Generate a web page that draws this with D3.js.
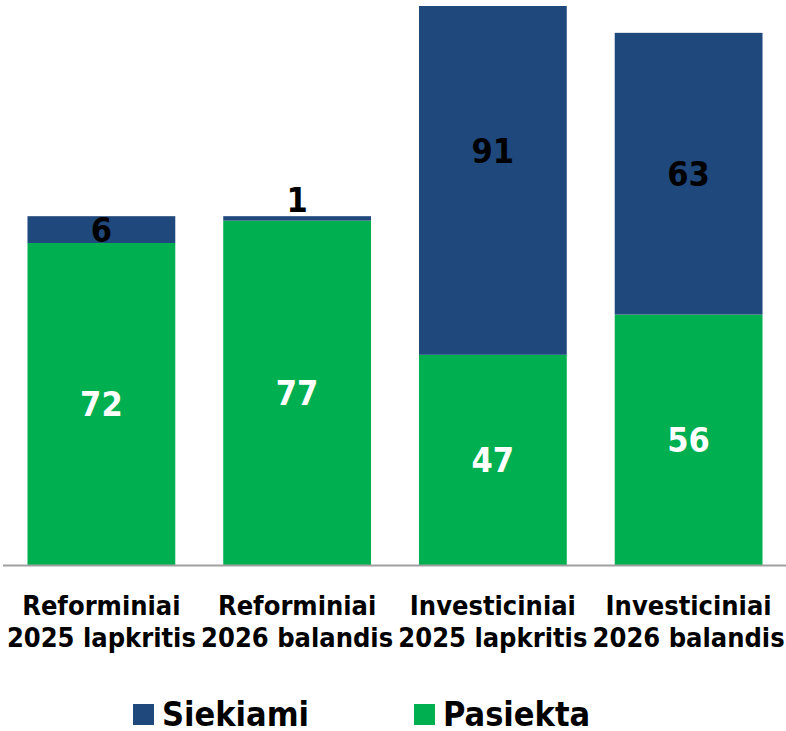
<!DOCTYPE html>
<html>
<head>
<meta charset="utf-8">
<script src="https://cdn.jsdelivr.net/npm/d3@7"></script>
<style>
  body { margin: 0; background: #fff; }
  text { font-family: "DejaVu Sans Condensed", "DejaVu Sans", sans-serif; font-weight: bold; }
</style>
</head>
<body>
<script>
var w = 786;
var h = 731;

var categories = [
  ["Reforminiai", "2025 lapkritis"],
  ["Reforminiai", "2026 balandis"],
  ["Investiciniai", "2025 lapkritis"],
  ["Investiciniai", "2026 balandis"]
];
var pasiekta = [72, 77, 47, 56];
var siekiami = [6, 1, 91, 63];
var seriesNames = ["Siekiami", "Pasiekta"];
var colors = {Siekiami: "#1f497d", Pasiekta: "#00b050"};

var rows = categories.map(function(c, i){
  return {key: i, Pasiekta: pasiekta[i], Siekiami: siekiami[i]};
});
var stack = d3.stack().keys(["Pasiekta", "Siekiami"])(rows);

var svg = d3.select("body").append("svg").attr("width", w).attr("height", h);

var x = d3.scaleBand().domain(d3.range(categories.length)).range([4, 786]).paddingInner(0.245).paddingOuter(0.12);
var y = d3.scaleLinear().domain([0, 125]).range([565, 6]);

svg.append("clipPath").attr("id", "plot")
  .append("rect").attr("x", 0).attr("y", y(125)).attr("width", w).attr("height", y(0) - y(125));

var g = svg.append("g").attr("clip-path", "url(#plot)");

stack.forEach(function(layer){
  g.selectAll(null)
    .data(layer)
    .enter()
    .append("rect")
    .attr("x", function(d, i){ return x(i); })
    .attr("width", x.bandwidth())
    .attr("y", function(d){ return y(d[1]); })
    .attr("height", function(d){ return y(d[0]) - y(d[1]); })
    .attr("fill", colors[layer.key]);
});

// value labels
stack.forEach(function(layer){
  svg.selectAll(null)
    .data(layer)
    .enter()
    .append("text")
    .attr("x", function(d, i){ return x(i) + x.bandwidth() / 2; })
    .attr("y", function(d){
      if (y(d[0]) - y(d[1]) < 20) return y(d[1]) - 4;
      return (y(d[0]) + y(d[1])) / 2 + 12;
    })
    .attr("text-anchor", "middle")
    .attr("font-size", 34)
    .attr("fill", layer.key == "Pasiekta" ? "#fff" : "#000")
    .text(function(d){ return d[1] - d[0]; });
});

// axis line
svg.append("line")
  .attr("x1", 3).attr("x2", w).attr("y1", y(0) + 0.5).attr("y2", y(0) + 0.5)
  .attr("stroke", "#a0a0a0").attr("stroke-width", 2);

// category labels
var lab = svg.selectAll(null)
  .data(categories)
  .enter()
  .append("text")
  .attr("text-anchor", "middle")
  .attr("font-size", 27)
  .attr("fill", "#000");
lab.append("tspan")
  .attr("x", function(d, i){ return x(i) + x.bandwidth() / 2; })
  .attr("y", 615)
  .text(function(d){ return d[0]; });
lab.append("tspan")
  .attr("x", function(d, i){ return x(i) + x.bandwidth() / 2; })
  .attr("y", 647)
  .text(function(d){ return d[1]; });

// legend
var legX = [133, 414];
var leg = svg.selectAll(".leg")
  .data(seriesNames)
  .enter()
  .append("g")
  .attr("class", "leg")
  .attr("transform", function(d, i){ return "translate(" + legX[i] + ",0)"; });
leg.append("rect")
  .attr("x", 0).attr("y", 704).attr("width", 21).attr("height", 21)
  .attr("fill", function(d){ return colors[d]; });
leg.append("text")
  .attr("x", 29).attr("y", 726)
  .attr("font-size", 34)
  .attr("fill", "#000")
  .text(function(d){ return d; });
</script>
</body>
</html>
